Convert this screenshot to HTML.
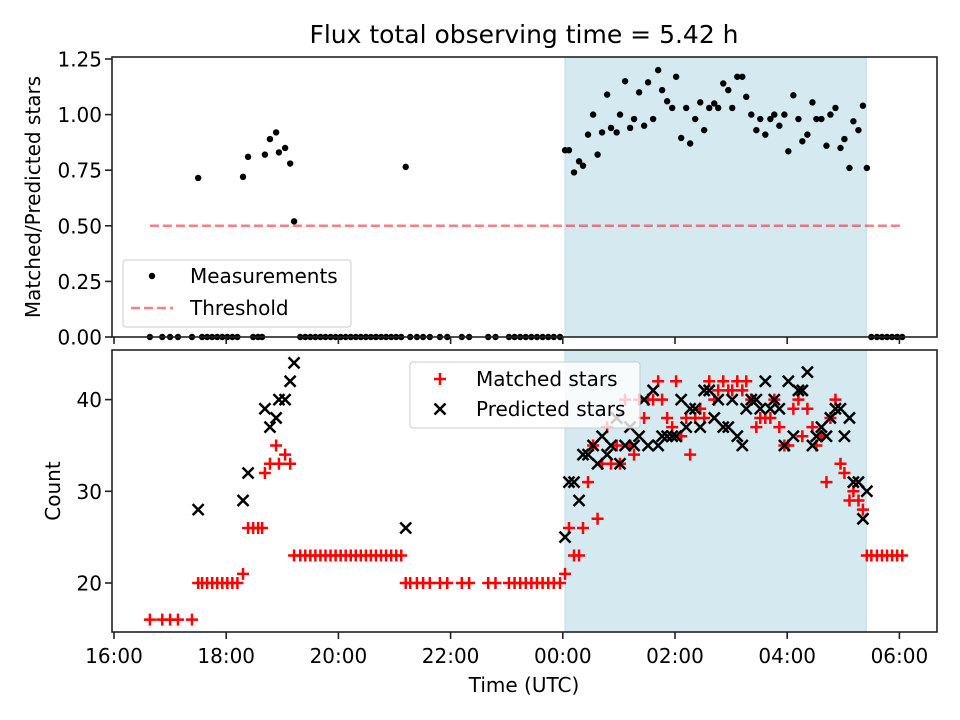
<!DOCTYPE html>
<html><head><meta charset="utf-8"><style>
body{margin:0;background:#fff}
svg{display:block;font-family:"DejaVu Sans","Liberation Sans",sans-serif}
</style></head><body>
<svg id="chart" width="960" height="720" viewBox="0 0 960 720">
<rect width="960" height="720" fill="#fff"/>
<g id="layer"></g>
</svg>
<script>
// times in hours (24+ = after midnight)
const times = [16.64,16.86,17.0,17.14,17.39,17.5,17.57,17.66,17.75,17.84,17.93,18.02,18.11,18.2,18.3,18.39,18.48,18.57,18.64,18.69,18.78,18.89,18.94,19.05,19.14,19.21,
19.32,19.41,19.5,19.59,19.68,19.77,19.86,19.95,20.04,20.13,20.22,20.31,20.4,20.49,20.58,20.67,20.76,20.85,20.94,21.03,21.12,
21.2,21.28,21.4,21.51,21.63,21.81,21.94,22.2,22.33,22.67,22.8,23.04,23.14,23.24,23.34,23.44,23.54,23.64,23.74,23.84,23.95,
24.04,24.11,24.20,24.29,24.36,24.45,24.54,24.62,24.70,24.79,24.86,24.96,25.02,25.11,25.20,25.27,25.36,25.45,25.52,25.61,25.70,25.77,25.86,25.95,26.02,26.11,26.20,26.27,26.36,26.45,26.52,26.61,26.70,26.77,26.86,26.95,27.02,27.11,27.20,27.27,27.36,27.45,27.52,27.61,27.70,27.77,27.86,27.95,28.02,28.11,28.20,28.27,28.36,28.45,28.52,28.61,28.70,28.77,28.86,28.95,29.02,29.11,29.18,29.27,29.35,29.42,
29.5,29.6,29.69,29.78,29.87,29.96,30.05];
const matched = [16,16,16,16,16,20,20,20,20,20,20,20,20,20,21,26,26,26,26,32,33,35,33,34,33,23,
23,23,23,23,23,23,23,23,23,23,23,23,23,23,23,23,23,23,23,23,23,
20,20,20,20,20,20,20,20,20,20,20,20,20,20,20,20,20,20,20,20,20,
21,26,23,23,26,31,35,27,33,37,33,35,33,40,35,34,40,38,40,40,42,40,38,37,42,36,38,34,38,39,38,42,40,41,42,41,41,42,41,42,40,37,38,38,38,40,37,35,35,39,40,36,39,37,35,36,31,38,40,33,32,29,30,29,28,23,
23,23,23,23,23,23,23];
const predicted = [null,null,null,null,null,28,null,null,null,null,null,null,null,null,29,32,null,null,null,39,37,38,40,40,42,44,
null,null,null,null,null,null,null,null,null,null,null,null,null,null,null,null,null,null,null,null,null,
26,null,null,null,null,null,null,null,null,null,null,null,null,null,null,null,null,null,null,null,null,
25,31,31,29,34,34,35,33,36,34,35,38,33,35,37,35,36,40,35,41,35,36,36,36,36,40,37,39,39,37,41,41,38,40,37,37,40,36,35,39,40,40,39,42,39,40,39,35,42,36,41,41,43,35,36,37,36,38,39,39,36,38,31,31,27,30,
null,null,null,null,null,null,null];
const ratio = [0,0,0,0,0,0.715,0,0,0,0,0,0,0,0,0.72,0.81,0,0,0,0.82,0.89,0.92,0.83,0.85,0.78,0.52,
0,0,0,0,0,0,0,0,0,0,0,0,0,0,0,0,0,0,0,0,0,
0.765,0,0,0,0,0,0,0,0,0,0,0,0,0,0,0,0,0,0,0,0,
0.84,0.84,0.74,0.79,0.77,0.91,1.00,0.82,0.92,1.09,0.94,0.92,1.00,1.15,0.94,0.98,1.10,0.95,1.145,0.98,1.20,1.11,1.06,1.03,1.17,0.895,1.03,0.87,0.98,1.055,0.93,1.03,1.05,1.03,1.14,1.11,1.03,1.17,1.17,1.08,1.00,0.93,0.98,0.91,0.98,1.00,0.95,1.00,0.835,1.087,0.98,0.88,0.91,1.055,0.98,0.98,0.86,1.00,1.03,0.85,0.89,0.76,0.97,0.93,1.04,0.76,
0,0,0,0,0,0,0];
const xTickHours = [16,18,20,22,24,26,28,30];
const xTickLabels = ["16:00","18:00","20:00","22:00","00:00","02:00","04:00","06:00"];
const topTicks = [0,0.25,0.5,0.75,1.0,1.25];
const topTickLabels = ["0.00","0.25","0.50","0.75","1.00","1.25"];
const botTicks = [20,30,40];
const shadeRange = [24.04,29.41];
const threshold = 0.5;
const thresholdRange = [16.64,30.05];

const NS="http://www.w3.org/2000/svg";
const L=document.getElementById('layer');
function mk(t,a,p){const e=document.createElementNS(NS,t);for(const k in a)e.setAttribute(k,a[k]);(p||L).appendChild(e);return e;}
const X=h=>114+(h-16)*56.1;
const YT=v=>337-v*222.4;
const YB=v=>583-(v-20)*9.17;
const P={x0:112,x1:937};
const T={y0:57,y1:337}, B={y0:350,y1:632};
const FS=20;

let s=mk('rect',{x:X(shadeRange[0]),y:T.y0,width:X(shadeRange[1])-X(shadeRange[0]),height:T.y1-T.y0,fill:'#d4e9f0',stroke:'#bcdde8'});


s=mk('rect',{x:X(shadeRange[0]),y:B.y0,width:X(shadeRange[1])-X(shadeRange[0]),height:B.y1-B.y0,fill:'#d4e9f0',stroke:'#bcdde8'});



let th=mk('line',{x1:X(thresholdRange[0]),x2:X(thresholdRange[1]),y1:YT(threshold),y2:YT(threshold),stroke:'rgba(255,0,0,0.5)','stroke-width':2.5,'stroke-dasharray':'9,4'});



times.forEach((t,i)=>{
  const c=mk('circle',{cx:X(t),cy:YT(ratio[i]),r:3.2,fill:'#000'});
  
  
});
times.forEach((t,i)=>{
  const x=X(t),y=YB(matched[i]);
  const p=mk('path',{d:`M${x-6},${y}H${x+6}M${x},${y-6}V${y+6}`,stroke:'#f00','stroke-width':2.5,fill:'none'});
  
  
});
times.forEach((t,i)=>{
  if(predicted[i]==null)return;
  const x=X(t),y=YB(predicted[i]),d=5.5;
  const p=mk('path',{d:`M${x-d},${y-d}L${x+d},${y+d}M${x-d},${y+d}L${x+d},${y-d}`,stroke:'#000','stroke-width':2.5,fill:'none'});
  
  
});

let f=mk('rect',{x:P.x0,y:T.y0,width:P.x1-P.x0,height:T.y1-T.y0,fill:'none',stroke:'#222','stroke-width':1.6});


f=mk('rect',{x:P.x0,y:B.y0,width:P.x1-P.x0,height:B.y1-B.y0,fill:'none',stroke:'#222','stroke-width':1.6});



xTickHours.forEach((h,i)=>{
  const x=X(h);
  mk('line',{x1:x,x2:x,y1:T.y1,y2:T.y1+7,stroke:'#222','stroke-width':1.6});
  mk('line',{x1:x,x2:x,y1:B.y1,y2:B.y1+7,stroke:'#222','stroke-width':1.6});
  const t=mk('text',{x:x,y:663,'font-size':FS,'text-anchor':'middle'});
  t.textContent=xTickLabels[i];
  
  
});
topTicks.forEach((v,i)=>{
  const y=YT(v);
  mk('line',{x1:P.x0-7,x2:P.x0,y1:y,y2:y,stroke:'#222','stroke-width':1.6});
  const t=mk('text',{x:P.x0-10,y:y+7.5,'font-size':FS,'text-anchor':'end'});
  t.textContent=topTickLabels[i];
  
  
});
botTicks.forEach(v=>{
  const y=YB(v);
  mk('line',{x1:P.x0-7,x2:P.x0,y1:y,y2:y,stroke:'#222','stroke-width':1.6});
  const t=mk('text',{x:P.x0-10,y:y+7.5,'font-size':FS,'text-anchor':'end'});
  t.textContent=String(v);
  
  
});
</script>
<svg width="960" height="720" style="position:absolute;left:0;top:0;font-family:'DejaVu Sans','Liberation Sans',sans-serif">
<text x="524" y="43" font-size="25" text-anchor="middle">Flux total observing time = 5.42 h</text>
<text x="524" y="692" font-size="20" text-anchor="middle">Time (UTC)</text>
<text transform="translate(40,197) rotate(-90)" font-size="20" text-anchor="middle">Matched/Predicted stars</text>
<text transform="translate(60,491) rotate(-90)" font-size="20" text-anchor="middle">Count</text>
<g>
<rect x="123" y="260" width="228" height="67" rx="3" fill="rgba(255,255,255,0.8)" stroke="#ccc"/>
<circle cx="152" cy="276" r="3.2" fill="#000"/>
<text x="190" y="283" font-size="20">Measurements</text>
<line x1="131" x2="173" y1="308" y2="308" stroke="rgba(255,0,0,0.5)" stroke-width="2.5" stroke-dasharray="9,4"/>
<text x="190" y="315" font-size="20">Threshold</text>
</g>
<g>
<rect x="410" y="362" width="230" height="66" rx="3" fill="rgba(255,255,255,0.8)" stroke="#ccc"/>
<path d="M434,379H446M440,373V385" stroke="#f00" stroke-width="2.5"/>
<text x="476" y="386" font-size="20">Matched stars</text>
<path d="M434.5,403.5L445.5,414.5M434.5,414.5L445.5,403.5" stroke="#000" stroke-width="2.5"/>
<text x="476" y="416" font-size="20">Predicted stars</text>
</g>
</svg>
</body></html>
